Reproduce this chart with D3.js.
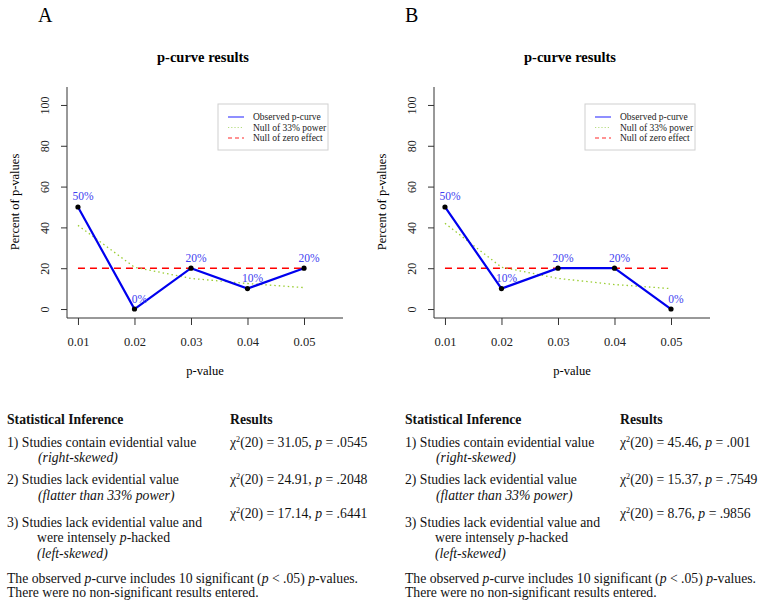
<!DOCTYPE html>
<html><head><meta charset="utf-8">
<script src="https://cdn.jsdelivr.net/npm/d3@7"></script>
<style>
body{margin:0;background:#fff;}
svg{font-family:"Liberation Serif","Times New Roman",serif;}
</style></head>
<body><svg id="c" width="763" height="609"></svg>
<script>
// ---- data ----
const pvals = [0.01, 0.02, 0.03, 0.04, 0.05];
const xTickLabels = ["0.01", "0.02", "0.03", "0.04", "0.05"];
const yTicks = [0, 20, 40, 60, 80, 100];
const observedA = [50, 0, 20, 10, 20];
const observedB = [50, 10, 20, 20, 0];
const power33A = [41, 20.5, 15, 12.5, 10.5];
const power33B = [42, 20.5, 15, 12, 10];
const nullZero = [20, 20, 20, 20, 20];
const legendLabels = ["Observed p-curve", "Null of 33% power", "Null of zero effect"];
const resultsA = ["31.05", ".0545", "24.91", ".2048", "17.14", ".6441"];
const resultsB = ["45.46", ".001", "15.37", ".7549", "8.76", ".9856"];
const panelLetters = ["A", "B"];

const svg = d3.select("#c");

function panel(dx, letter, observed, power, res, tx, rx) {
  const g = svg.append("g").attr("transform", `translate(${dx},0)`);
  const x = d3.scaleLinear().domain([0.00806, 0.0569]).range([67, 343]);
  const y = d3.scaleLinear().domain([-4.4, 108.8]).range([318, 87]);

  g.append("text").attr("x", 38).attr("y", 22)
    .attr("font-size", 20).text(letter);
  g.append("text").attr("x", 203).attr("y", 62).attr("text-anchor", "middle")
    .attr("font-size", 14.5).attr("font-weight", "bold").text("p-curve results");

  // L box
  g.append("path").attr("d", `M67,87V318H343`).attr("fill", "none").attr("stroke", "#333").attr("stroke-width", 1);

  const ya = g.append("g").attr("transform", "translate(67,0)")
    .call(d3.axisLeft(y).tickValues(yTicks).tickSize(6).tickFormat(d3.format("d")));
  ya.select(".domain").remove();
  ya.selectAll("line").attr("stroke", "#333");
  ya.selectAll("text").attr("x", null).attr("dy", "0.35em")
    .attr("transform", "translate(-22,0) rotate(-90)").attr("text-anchor", "middle")
    .attr("font-size", 12).attr("font-family", "Liberation Serif").attr("fill", "#222");

  const xa = g.append("g").attr("transform", "translate(0,318)")
    .call(d3.axisBottom(x).tickValues(pvals).tickSize(7).tickFormat((d, i) => xTickLabels[i]));
  xa.select(".domain").remove();
  xa.selectAll("line").attr("stroke", "#333");
  xa.selectAll("text").attr("y", 19).attr("font-size", 12.5).attr("font-family", "Liberation Serif").attr("fill", "#222");

  g.append("text").attr("x", 205).attr("y", 375).attr("text-anchor", "middle")
    .attr("font-size", 12.5).text("p-value");
  g.append("text").attr("transform", "translate(19,202) rotate(-90)").attr("text-anchor", "middle")
    .attr("font-size", 12.5).text("Percent of p-values");

  const line = d3.line().x((d, i) => x(pvals[i])).y(d => y(d));
  g.append("path").datum(nullZero).attr("d", line).attr("fill", "none")
    .attr("stroke", "#ff0000").attr("stroke-width", 1.5).attr("stroke-dasharray", "7,5");
  g.append("path").datum(power).attr("d", line).attr("fill", "none")
    .attr("stroke", "#9acd32").attr("stroke-width", 1.3).attr("stroke-dasharray", "1.5,3");
  g.append("path").datum(observed).attr("d", line).attr("fill", "none")
    .attr("stroke", "#0000ee").attr("stroke-width", 2.2);
  g.selectAll(".pt").data(observed).enter().append("circle")
    .attr("cx", (d, i) => x(pvals[i])).attr("cy", d => y(d)).attr("r", 2.6).attr("fill", "#000");
  g.selectAll(".lab").data(observed).enter().append("text")
    .attr("x", (d, i) => x(pvals[i]) + 5).attr("y", d => y(d) - 6.5).attr("text-anchor", "middle")
    .attr("font-size", 11.5).attr("fill", "#4040f0").text(d => d + "%");

  // legend
  const lg = g.append("g");
  lg.append("rect").attr("x", 218).attr("y", 104).attr("width", 110).attr("height", 46)
    .attr("fill", "#fff").attr("stroke", "#d0d0d0");
  const styles = [["#6a6aff", null, 1.5], ["#b5dc80", "1.2,2", 1.2], ["#ff7070", "4,3", 1.5]];
  legendLabels.forEach((t, i) => {
    const yy = 117 + i * 10.5;
    lg.append("line").attr("x1", 228).attr("x2", 244).attr("y1", yy).attr("y2", yy)
      .attr("stroke", styles[i][0]).attr("stroke-width", styles[i][2])
      .attr("stroke-dasharray", styles[i][1]);
    lg.append("text").attr("x", 253).attr("y", yy + 3.3).attr("font-size", 9.5).attr("fill", "#222").text(t);
  });

  // table
  const tg = svg.append("g");
  const fs = 13.7;
  function txt(xp, yp, parts, opts) {
    const t = tg.append("text").attr("x", xp).attr("y", yp).attr("font-size", fs).attr("fill", "#111");
    if (opts && opts.bold) t.attr("font-weight", "bold");
    if (opts && opts.italic) t.attr("font-style", "italic");
    parts.forEach(p => {
      const s = t.append("tspan").text(p.t);
      if (p.i) s.attr("font-style", "italic");
      if (p.sup) s.attr("font-size", fs * 0.6).attr("dy", -5);
      if (p.after) s.attr("dy", 5);
    });
    return t;
  }
  txt(tx, 424, [{t: "Statistical Inference"}], {bold: true});
  txt(rx, 424, [{t: "Results"}], {bold: true});
  txt(tx, 447, [{t: "1) Studies contain evidential value"}]);
  txt(tx + 31, 462, [{t: "(right-skewed)"}], {italic: true});
  txt(tx, 484, [{t: "2) Studies lack evidential value"}]);
  txt(tx + 31, 500, [{t: "(flatter than 33% power)"}], {italic: true});
  txt(tx, 527, [{t: "3) Studies lack evidential value and"}]);
  txt(tx + 30, 542, [{t: "were intensely "}, {t: "p", i: true}, {t: "-hacked"}]);
  txt(tx + 30, 558, [{t: "(left-skewed)"}], {italic: true});
  const ry = [447, 484, 518];
  for (let k = 0; k < 3; k++) {
    txt(rx, ry[k], [{t: "χ"}, {t: "2", sup: true}, {t: "(20) = " + res[2 * k] + ", ", after: true}, {t: "p", i: true}, {t: " = " + res[2 * k + 1]}]);
  }
  txt(tx, 583, [{t: "The observed "}, {t: "p", i: true}, {t: "-curve includes 10 significant ("}, {t: "p", i: true}, {t: " < .05) "}, {t: "p", i: true}, {t: "-values."}]);
  txt(tx, 597, [{t: "There were no non-significant results entered."}]);
}

panel(0, panelLetters[0], observedA, power33A, resultsA, 7, 230);
panel(367, panelLetters[1], observedB, power33B, resultsB, 405, 620);
</script></body></html>
